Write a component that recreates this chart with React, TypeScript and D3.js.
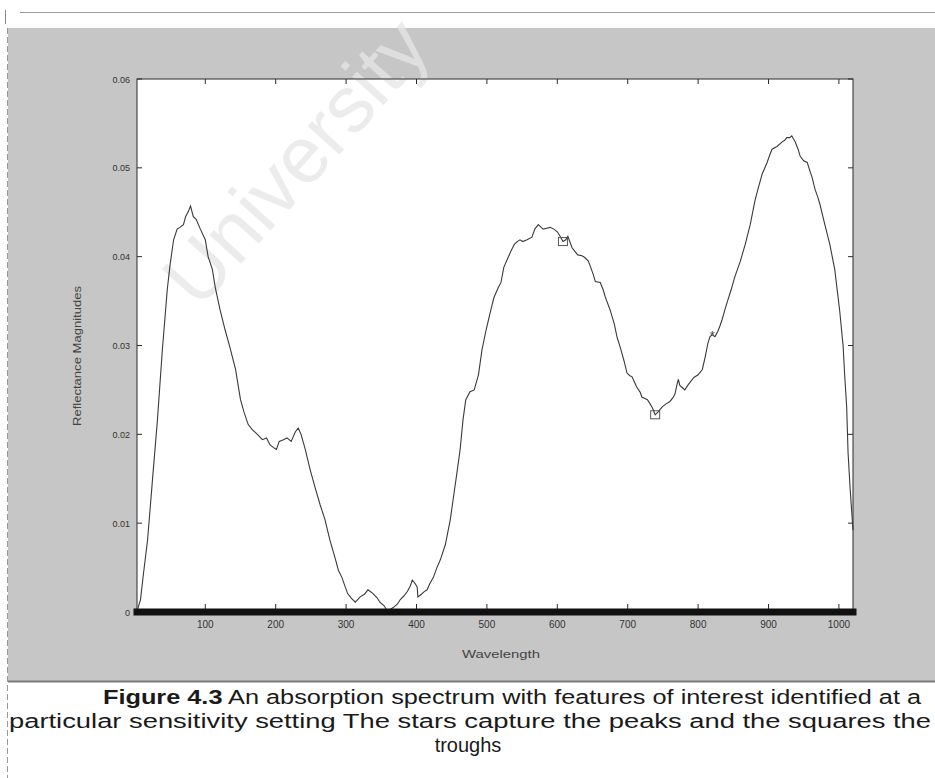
import React from "react";
import * as d3 from "d3";

// ---- data ----
const wavelengths = [
  3, 8, 12, 18, 25, 32, 39, 46, 50, 55, 60, 64, 69, 72, 76, 79, 83, 87, 93, 100,
  104, 110, 114, 121, 128, 135, 143, 150, 155, 161, 167, 174, 181, 187, 192, 197, 201, 205, 211, 216,
  222, 228, 232, 236, 242, 249, 256, 263, 270, 277, 285, 289, 294, 302, 307, 313, 320, 326, 331, 338,
  344, 348, 354, 358, 363, 367, 373, 377, 382, 387, 391, 394, 398, 401, 402, 407, 411, 415, 419, 424,
  429, 434, 441, 448, 453, 458, 462, 466, 470, 476, 482, 488, 493, 499, 505, 510, 516, 520, 524, 529,
  534, 539, 543, 547, 551, 557, 564, 568, 573, 577, 580, 585, 590, 595, 600, 604, 608, 612, 615, 621,
  625, 629, 635, 639, 644, 646, 651, 654, 661, 665, 668, 675, 681, 685, 689, 695, 699, 703, 706, 710,
  713, 718, 720, 725, 728, 732, 735, 739, 743, 749, 754, 760, 764, 767, 770, 772, 774, 777, 781, 786,
  789, 794, 800, 806, 810, 814, 817, 820, 824, 828, 831, 834, 838, 841, 847, 852, 860, 867, 874, 881,
  885, 891, 898, 902, 905, 912, 919, 923, 926, 930, 933, 938, 942, 945, 950, 955, 959, 962, 966, 970,
  973, 980, 987, 994, 1001, 1006, 1008, 1011, 1013, 1016, 1020,
];
const reflectance = [
  0.0001, 0.0014, 0.0042, 0.0081, 0.0149, 0.0216, 0.0295, 0.0363, 0.0391, 0.0419, 0.0431, 0.0433, 0.0436, 0.0445, 0.0451, 0.0457, 0.0445, 0.0442, 0.0431, 0.0419,
  0.0400, 0.0386, 0.0366, 0.0340, 0.0318, 0.0298, 0.0273, 0.0239, 0.0225, 0.0211, 0.0205, 0.0200, 0.0194, 0.0196, 0.0188, 0.0185, 0.0183, 0.0192, 0.0194, 0.0196,
  0.0192, 0.0203, 0.0207, 0.0200, 0.0183, 0.0160, 0.0140, 0.0121, 0.0104, 0.0081, 0.0059, 0.0047, 0.0039, 0.0021, 0.0016, 0.0011, 0.0017, 0.0020, 0.0025, 0.0021,
  0.0016, 0.0011, 0.0007, 0.0002, 0.0003, 0.0005, 0.0009, 0.0014, 0.0018, 0.0023, 0.0029, 0.0036, 0.0032, 0.0028, 0.0017, 0.0020, 0.0023, 0.0025, 0.0032, 0.0039,
  0.0050, 0.0059, 0.0076, 0.0104, 0.0132, 0.0160, 0.0183, 0.0216, 0.0239, 0.0248, 0.0250, 0.0267, 0.0295, 0.0318, 0.0338, 0.0354, 0.0365, 0.0371, 0.0388, 0.0397,
  0.0406, 0.0414, 0.0417, 0.0419, 0.0417, 0.0419, 0.0422, 0.0431, 0.0436, 0.0433, 0.0431, 0.0432, 0.0433, 0.0431, 0.0428, 0.0423, 0.0417, 0.0419, 0.0423, 0.0410,
  0.0406, 0.0402, 0.0401, 0.0399, 0.0395, 0.0391, 0.0380, 0.0372, 0.0371, 0.0363, 0.0355, 0.0340, 0.0324, 0.0309, 0.0299, 0.0282, 0.0269, 0.0266, 0.0265, 0.0258,
  0.0253, 0.0247, 0.0242, 0.0240, 0.0239, 0.0234, 0.0230, 0.0222, 0.0225, 0.0231, 0.0234, 0.0237, 0.0241, 0.0245, 0.0256, 0.0262, 0.0255, 0.0253, 0.0250, 0.0256,
  0.0259, 0.0264, 0.0267, 0.0273, 0.0287, 0.0303, 0.0310, 0.0312, 0.0310, 0.0316, 0.0322, 0.0329, 0.0340, 0.0348, 0.0363, 0.0377, 0.0395, 0.0414, 0.0436, 0.0464,
  0.0476, 0.0493, 0.0506, 0.0515, 0.0521, 0.0524, 0.0529, 0.0531, 0.0534, 0.0534, 0.0536, 0.0529, 0.0521, 0.0513, 0.0508, 0.0506, 0.0496, 0.0489, 0.0476, 0.0467,
  0.0459, 0.0436, 0.0414, 0.0386, 0.0340, 0.0299, 0.0269, 0.0231, 0.0179, 0.0138, 0.0092,
];
const troughWavelengths = [608, 739];
const troughValues = [0.0417, 0.0222];
const peakWavelengths = [820];
const peakValues = [0.0312];
const baselineWavelengths = [3, 1020];
const baselineValues = [0, 0];

const xTicks = [100, 200, 300, 400, 500, 600, 700, 800, 900, 1000];
const xTickLabels = ["100", "200", "300", "400", "500", "600", "700", "800", "900", "1000"];
const yTicks = [0, 0.01, 0.02, 0.03, 0.04, 0.05, 0.06];
const yTickLabels = ["0", "0.01", "0.02", "0.03", "0.04", "0.05", "0.06"];

const xTitle = "Wavelength";
const yTitle = "Reflectance Magnitudes";
const captionBold = "Figure 4.3";
const captionLine1 = " An absorption spectrum with features of interest  identified at a";
const captionLine2 = "particular sensitivity setting  The stars capture the peaks and the squares the";
const captionLine3 = "troughs";
const watermark = "University";

export default function App() {
  const W = 935;
  const H = 778;
  const left = 137, right = 853, top = 79, bottom = 612;
  const x = d3.scaleLinear().domain([3, 1020]).range([left, right]);
  const y = d3.scaleLinear().domain([0, 0.06]).range([bottom, top]);

  const pts = wavelengths.map((w, i) => [w, reflectance[i]] as [number, number]);
  const line = d3
    .line<[number, number]>()
    .x((d) => x(d[0]))
    .y((d) => y(d[1]));
  const basePts = baselineWavelengths.map((w, i) => [w, baselineValues[i]] as [number, number]);

  const font = "'Liberation Sans', Arial, sans-serif";
  const tickLen = 5;
  const axisColor = "#2a2a2a";

  return (
    <svg
      width={W}
      height={H}
      viewBox={`0 0 ${W} ${H}`}
      style={{ position: "absolute", left: 0, top: 0, background: "#fff" }}
    >
      {/* page artefacts */}
      <line x1={20} x2={935} y1={12.5} y2={12.5} stroke="#9a9a9a" strokeWidth={1} />
      <line x1={5.5} x2={5.5} y1={10} y2={24} stroke="#888" strokeWidth={1} />
      <line x1={7.5} x2={7.5} y1={28} y2={778} stroke="#999" strokeWidth={1} strokeDasharray="6 3" />

      {/* gray figure background */}
      <rect x={8} y={28} width={927} height={653} fill="#c6c6c6" />
      <line x1={8} x2={935} y1={681.5} y2={681.5} stroke="#7a7a7a" strokeWidth={2} />

      {/* plot area */}
      <rect x={left} y={top} width={right - left} height={bottom - top} fill="#ffffff" />

      {/* watermark */}
      <text
        x={305}
        y={185}
        transform="rotate(-48 305 170)"
        textAnchor="middle"
        fontFamily={font}
        fontSize={80}
        fill="#e6e6e6"
        opacity={0.75}
      >
        {watermark}
      </text>

      {/* axes box */}
      <rect x={left} y={top} width={right - left} height={bottom - top} fill="none" stroke={axisColor} strokeWidth={1} />

      {/* y ticks */}
      {yTicks.map((t, i) => (
        <g key={"y" + i}>
          <line x1={left} x2={left + tickLen} y1={y(t)} y2={y(t)} stroke={axisColor} />
          <line x1={right} x2={right - tickLen} y1={y(t)} y2={y(t)} stroke={axisColor} />
          <text
            x={left - 7}
            y={y(t) + 3.5}
            textAnchor="end"
            fontFamily={font}
            fontSize={9}
            fill="#333"
          >
            {yTickLabels[i]}
          </text>
        </g>
      ))}

      {/* x ticks */}
      {xTicks.map((t, i) => (
        <g key={"x" + i}>
          <line x1={x(t)} x2={x(t)} y1={bottom} y2={bottom - tickLen - 3} stroke={axisColor} />
          <line x1={x(t)} x2={x(t)} y1={top} y2={top + tickLen} stroke={axisColor} />
          <text
            x={x(t)}
            y={628}
            textAnchor="middle"
            fontFamily={font}
            fontSize={10}
            fill="#333"
          >
            {xTickLabels[i]}
          </text>
        </g>
      ))}

      {/* spectrum */}
      <path d={line(pts) || ""} fill="none" stroke="#3a3a3a" strokeWidth={1.1} />

      {/* troughs (squares) and peaks (stars) */}
      {troughWavelengths.map((w, i) => (
        <rect
          key={"tr" + i}
          x={x(w) - 4.5}
          y={y(troughValues[i]) - 4}
          width={9}
          height={8}
          fill="none"
          stroke="#555"
          strokeWidth={1}
        />
      ))}
      {peakWavelengths.map((w, i) => (
        <text
          key={"pk" + i}
          x={x(w)}
          y={y(peakValues[i]) + 5}
          textAnchor="middle"
          fontFamily={font}
          fontSize={13}
          fill="#444"
        >
          *
        </text>
      ))}

      {/* thick zero baseline */}
      <path
        d={line(basePts) || ""}
        fill="none"
        stroke="#111"
        strokeWidth={7}
        strokeLinecap="square"
      />

      {/* axis titles */}
      <text
        x={501}
        y={658}
        textAnchor="middle"
        fontFamily={font}
        fontSize={11}
        fill="#444"
        textLength={78}
        lengthAdjust="spacingAndGlyphs"
      >
        {xTitle}
      </text>
      <text
        transform={`translate(81 356) rotate(-90)`}
        textAnchor="middle"
        fontFamily={font}
        fontSize={10.5}
        fill="#444"
        textLength={140}
        lengthAdjust="spacingAndGlyphs"
      >
        {yTitle}
      </text>

      {/* caption */}
      <text
        x={103}
        y={704}
        fontFamily={font}
        fontSize={20}
        fill="#1a1a1a"
        textLength={818}
        lengthAdjust="spacingAndGlyphs"
      >
        <tspan fontWeight="bold">{captionBold}</tspan>
        <tspan>{captionLine1}</tspan>
      </text>
      <text
        x={9}
        y={728}
        fontFamily={font}
        fontSize={20}
        fill="#1a1a1a"
        textLength={922}
        lengthAdjust="spacingAndGlyphs"
      >
        {captionLine2}
      </text>
      <text
        x={468}
        y={752}
        textAnchor="middle"
        fontFamily={font}
        fontSize={20}
        fill="#1a1a1a"
      >
        {captionLine3}
      </text>
    </svg>
  );
}
